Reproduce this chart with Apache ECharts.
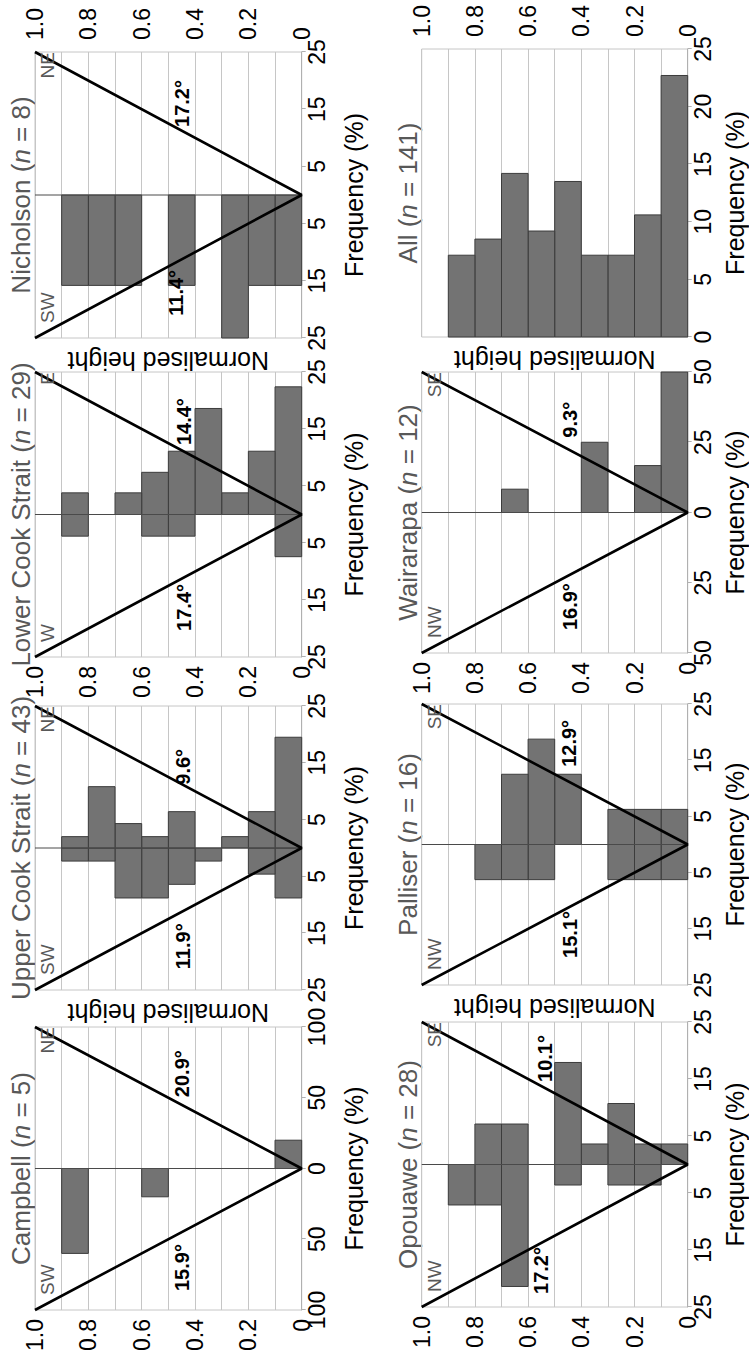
<!DOCTYPE html>
<html>
<head>
<meta charset="utf-8">
<script src="https://cdn.jsdelivr.net/npm/echarts@6/dist/echarts.min.js"></script>
<style>
html,body{margin:0;padding:0;width:749px;height:1357px;overflow:hidden;background:#fff;}
#chart{position:absolute;left:0;top:0;width:1357px;height:749px;transform-origin:0 0;transform:translate(0,1357px) rotate(-90deg);background:#fff;}
</style>
</head>
<body>
<div id="chart"></div>
<script>
// ---------------- DATA ----------------
const heightBins = [0, 0.1, 0.2, 0.3, 0.4, 0.5, 0.6, 0.7, 0.8, 0.9]; // bin starts (normalised height)
const binWidth = 0.1;
const heightTickLabels = ['0', '', '0.2', '', '0.4', '', '0.6', '', '0.8', '', '1.0'];

const panelNames = ['Campbell', 'Upper Cook Strait', 'Lower Cook Strait', 'Nicholson',
                    'Opouawe', 'Palliser', 'Wairarapa', 'All'];
const panelN = [5, 43, 29, 8, 28, 16, 12, 141];
const leftDirs  = ['SW', 'SW', 'W', 'SW', 'NW', 'NW', 'NW', ''];
const rightDirs = ['NE', 'NE', 'E', 'NE', 'SE', 'SE', 'SE', ''];
const freqMax = [100, 25, 25, 25, 25, 25, 50, 25];
const freqInterval = [50, 10, 10, 10, 10, 10, 25, 5];

// frequency (%) per height bin (bottom -> top)
const campbellSW  = [0, 0, 0, 0, 0, 20, 0, 0, 60, 0];
const campbellNE  = [20, 0, 0, 0, 0, 0, 0, 0, 0, 0];
const upperCookSW = [8.8, 4.6, 0, 2.3, 6.4, 8.8, 8.8, 2.3, 2.3, 0];
const upperCookNE = [19.5, 6.4, 2.0, 0, 6.4, 2.0, 4.3, 10.8, 2.0, 0];
const lowerCookW  = [7.4, 0, 0, 0, 3.8, 3.8, 0, 0, 3.8, 0];
const lowerCookE  = [22.4, 11.1, 3.8, 18.6, 11.1, 7.4, 3.8, 0, 3.8, 0];
const nicholsonSW = [15.8, 15.8, 25, 0, 15.8, 0, 15.8, 15.8, 15.8, 0];
const nicholsonNE = [0, 0, 0, 0, 0, 0, 0, 0, 0, 0];
const opouaweNW   = [0, 3.6, 3.6, 0, 3.6, 0, 21.4, 7.1, 7.1, 0];
const opouaweSE   = [3.6, 3.6, 10.7, 3.6, 17.9, 0, 7.1, 7.1, 0, 0];
const palliserNW  = [6.25, 6.25, 6.25, 0, 0, 6.25, 6.25, 6.25, 0, 0];
const palliserSE  = [6.25, 6.25, 6.25, 0, 12.5, 18.75, 12.5, 0, 0, 0];
const wairarapaNW = [0, 0, 0, 0, 0, 0, 0, 0, 0, 0];
const wairarapaSE = [50, 16.7, 0, 25, 0, 0, 8.3, 0, 0, 0];
const allFreq     = [22.7, 10.6, 7.1, 7.1, 13.5, 9.2, 14.2, 8.5, 7.1, 0];

const leftValues  = [campbellSW, upperCookSW, lowerCookW, nicholsonSW, opouaweNW, palliserNW, wairarapaNW, null];
const rightValues = [campbellNE, upperCookNE, lowerCookE, nicholsonNE, opouaweSE, palliserSE, wairarapaSE, allFreq];

// angle annotations and their anchor [frequency, height]
const leftAngles  = ['15.9°', '11.9°', '17.4°', '11.4°', '17.2°', '15.1°', '16.9°', ''];
const rightAngles = ['20.9°', '9.6°', '14.4°', '17.2°', '10.1°', '12.9°', '9.3°', ''];
const leftAnglePos  = [[-70, 0.447], [-17.3, 0.446], [-16.3, 0.44], [-17.1, 0.47], [-18.6, 0.55], [-16.0, 0.443], [-33.5, 0.444], null];
const rightAnglePos = [[67, 0.447], [14.3, 0.446], [16.3, 0.44], [16.0, 0.45], [18.6, 0.535], [18.0, 0.448], [33, 0.444], null];

// ---------------- LAYOUT ----------------
const FONT = '"Liberation Sans", Arial, Helvetica, sans-serif';
const TICK_SIZE = 23;
const gridRows = [{top: 35, height: 266.7}, {top: 421.7, height: 266}];
const gridCols = [
  [[47, 330], [367, 651], [700, 985], [1019, 1305]],
  [[50, 335], [372, 653], [704, 985], [1020, 1308]]
];
const BAR_FILL = '#737373', BAR_STROKE = '#3c3c3c', GRID_COLOR = '#c6c6c6', TITLE_COLOR = '#585858';

const chart = echarts.init(document.getElementById('chart'), null, {renderer: 'svg', width: 1357, height: 749});

function heightLabel(v) { return heightTickLabels[Math.round(v * 10)]; }

function barRender(params, api) {
  const v = api.value(0), y0 = api.value(1), y1 = api.value(2);
  const a = api.coord([0, y0]);
  const b = api.coord([v, y1]);
  return {
    type: 'rect',
    shape: {x: Math.min(a[0], b[0]), y: b[1], width: Math.abs(b[0] - a[0]), height: a[1] - b[1]},
    style: {fill: BAR_FILL, stroke: BAR_STROKE, lineWidth: 1}
  };
}

function makeTextRender(texts, opts) {
  return function (params, api) {
    const p = api.coord([api.value(0), api.value(1)]);
    const o = opts[params.dataIndex];
    return {
      type: 'text',
      x: p[0] + o.dx, y: p[1] + o.dy,
      style: {
        text: texts[params.dataIndex], fill: o.color, font: o.font,
        align: o.align, verticalAlign: o.va, textAlign: o.align, textVerticalAlign: o.va
      }
    };
  };
}

const grids = [], xAxes = [], yAxes = [], series = [], graphics = [];

for (let p = 0; p < 8; p++) {
  const row = p < 4 ? 0 : 1, col = p % 4;
  const [l, r] = gridCols[row][col];
  const top = gridRows[row].top, h = gridRows[row].height;
  const oneSided = leftValues[p] === null;
  const m = freqMax[p];

  grids.push({left: l, top: top, width: r - l, height: h, show: true, borderColor: GRID_COLOR, borderWidth: 1,
              backgroundColor: 'transparent', containLabel: false, outerBoundsMode: 'none'});

  xAxes.push({
    type: 'value', gridIndex: p, min: oneSided ? 0 : -m, max: m, interval: freqInterval[p],
    splitLine: {show: false},
    axisLine: {show: true, lineStyle: {color: '#b0b0b0', width: 1}},
    axisTick: {show: true, length: 4, lineStyle: {color: '#b0b0b0'}},
    axisLabel: {margin: 4, fontSize: TICK_SIZE, color: '#000', fontFamily: FONT, formatter: v => String(Math.abs(v))},
    name: 'Frequency (%)', nameLocation: 'middle', nameGap: row ? 35 : 40,
    nameTextStyle: {fontSize: 25, color: '#000', fontFamily: FONT}
  });

  const yi = yAxes.length;
  yAxes.push({
    type: 'value', gridIndex: p, min: 0, max: 1, interval: 0.1, position: 'left',
    axisLine: {show: false}, axisTick: {show: false},
    splitLine: {show: true, lineStyle: {color: GRID_COLOR, width: 1}},
    axisLabel: {show: col === 0 || col === 2, margin: 9, fontSize: TICK_SIZE, color: '#000', fontFamily: FONT, formatter: heightLabel},
    name: (col === 1 || col === 3) ? 'Normalised height' : '', nameLocation: 'middle', nameGap: 10,
    nameTextStyle: {fontSize: 25, color: '#000', fontFamily: FONT}
  });
  if (col === 3) {
    yAxes.push({
      type: 'value', gridIndex: p, min: 0, max: 1, interval: 0.1, position: 'right',
      axisLine: {show: false}, axisTick: {show: false}, splitLine: {show: false},
      axisLabel: {show: true, margin: 12, fontSize: TICK_SIZE, color: '#000', fontFamily: FONT, formatter: heightLabel}
    });
  }

  // bars
  const barData = [];
  heightBins.forEach((b, i) => {
    if (!oneSided && leftValues[p][i] > 0) barData.push([-leftValues[p][i], b, b + binWidth]);
    if (rightValues[p][i] > 0) barData.push([rightValues[p][i], b, b + binWidth]);
  });
  series.push({type: 'custom', xAxisIndex: p, yAxisIndex: yi, data: barData, renderItem: barRender,
               encode: {x: 0, y: [1, 2]}, z: 2, silent: true, clip: false});

  if (!oneSided) {
    // centre line
    series.push({type: 'line', xAxisIndex: p, yAxisIndex: yi, data: [[0, 0], [0, 1]], symbol: 'none',
                 lineStyle: {color: '#4a4a4a', width: 1}, z: 3, silent: true});
    // triangle
    series.push({type: 'line', xAxisIndex: p, yAxisIndex: yi, data: [[-m, 1], [0, 0], [m, 1]], symbol: 'none',
                 lineStyle: {color: '#000', width: 2.6}, z: 4, silent: true, clip: false});
    // angle labels
    const angFont = 'bold 20px ' + FONT;
    series.push({type: 'custom', xAxisIndex: p, yAxisIndex: yi, z: 5, silent: true, clip: false,
      data: [leftAnglePos[p], rightAnglePos[p]],
      renderItem: makeTextRender([leftAngles[p], rightAngles[p]], [
        {dx: 0, dy: 0, color: '#000', font: angFont, align: 'center', va: 'middle'},
        {dx: 0, dy: 0, color: '#000', font: angFont, align: 'center', va: 'middle'}])
    });
    // direction labels
    const dirFont = '19px ' + FONT;
    series.push({type: 'custom', xAxisIndex: p, yAxisIndex: yi, z: 5, silent: true, clip: false,
      data: [[-m, 1], [m, 1]],
      renderItem: makeTextRender([leftDirs[p], rightDirs[p]], [
        {dx: 15, dy: 3, color: TITLE_COLOR, font: dirFont, align: 'left', va: 'top'},
        {dx: 0, dy: 3, color: TITLE_COLOR, font: dirFont, align: 'right', va: 'top'}])
    });
  }

  // panel title
  graphics.push({
    type: 'text', x: (l + r) / 2, y: top - 14, silent: true,
    style: {
      text: '{a|' + panelNames[p] + ' (}{i|n}{a| = ' + panelN[p] + ')}',
      rich: {
        a: {fill: TITLE_COLOR, fontSize: 26, fontFamily: FONT},
        i: {fill: TITLE_COLOR, fontSize: 26, fontFamily: FONT, fontStyle: 'italic'}
      },
      align: 'center', verticalAlign: 'middle', textAlign: 'center', textVerticalAlign: 'middle'
    }
  });
}

chart.setOption({
  animation: false,
  backgroundColor: '#fff',
  grid: grids,
  xAxis: xAxes,
  yAxis: yAxes,
  series: series,
  graphic: graphics
});
</script>
</body>
</html>
